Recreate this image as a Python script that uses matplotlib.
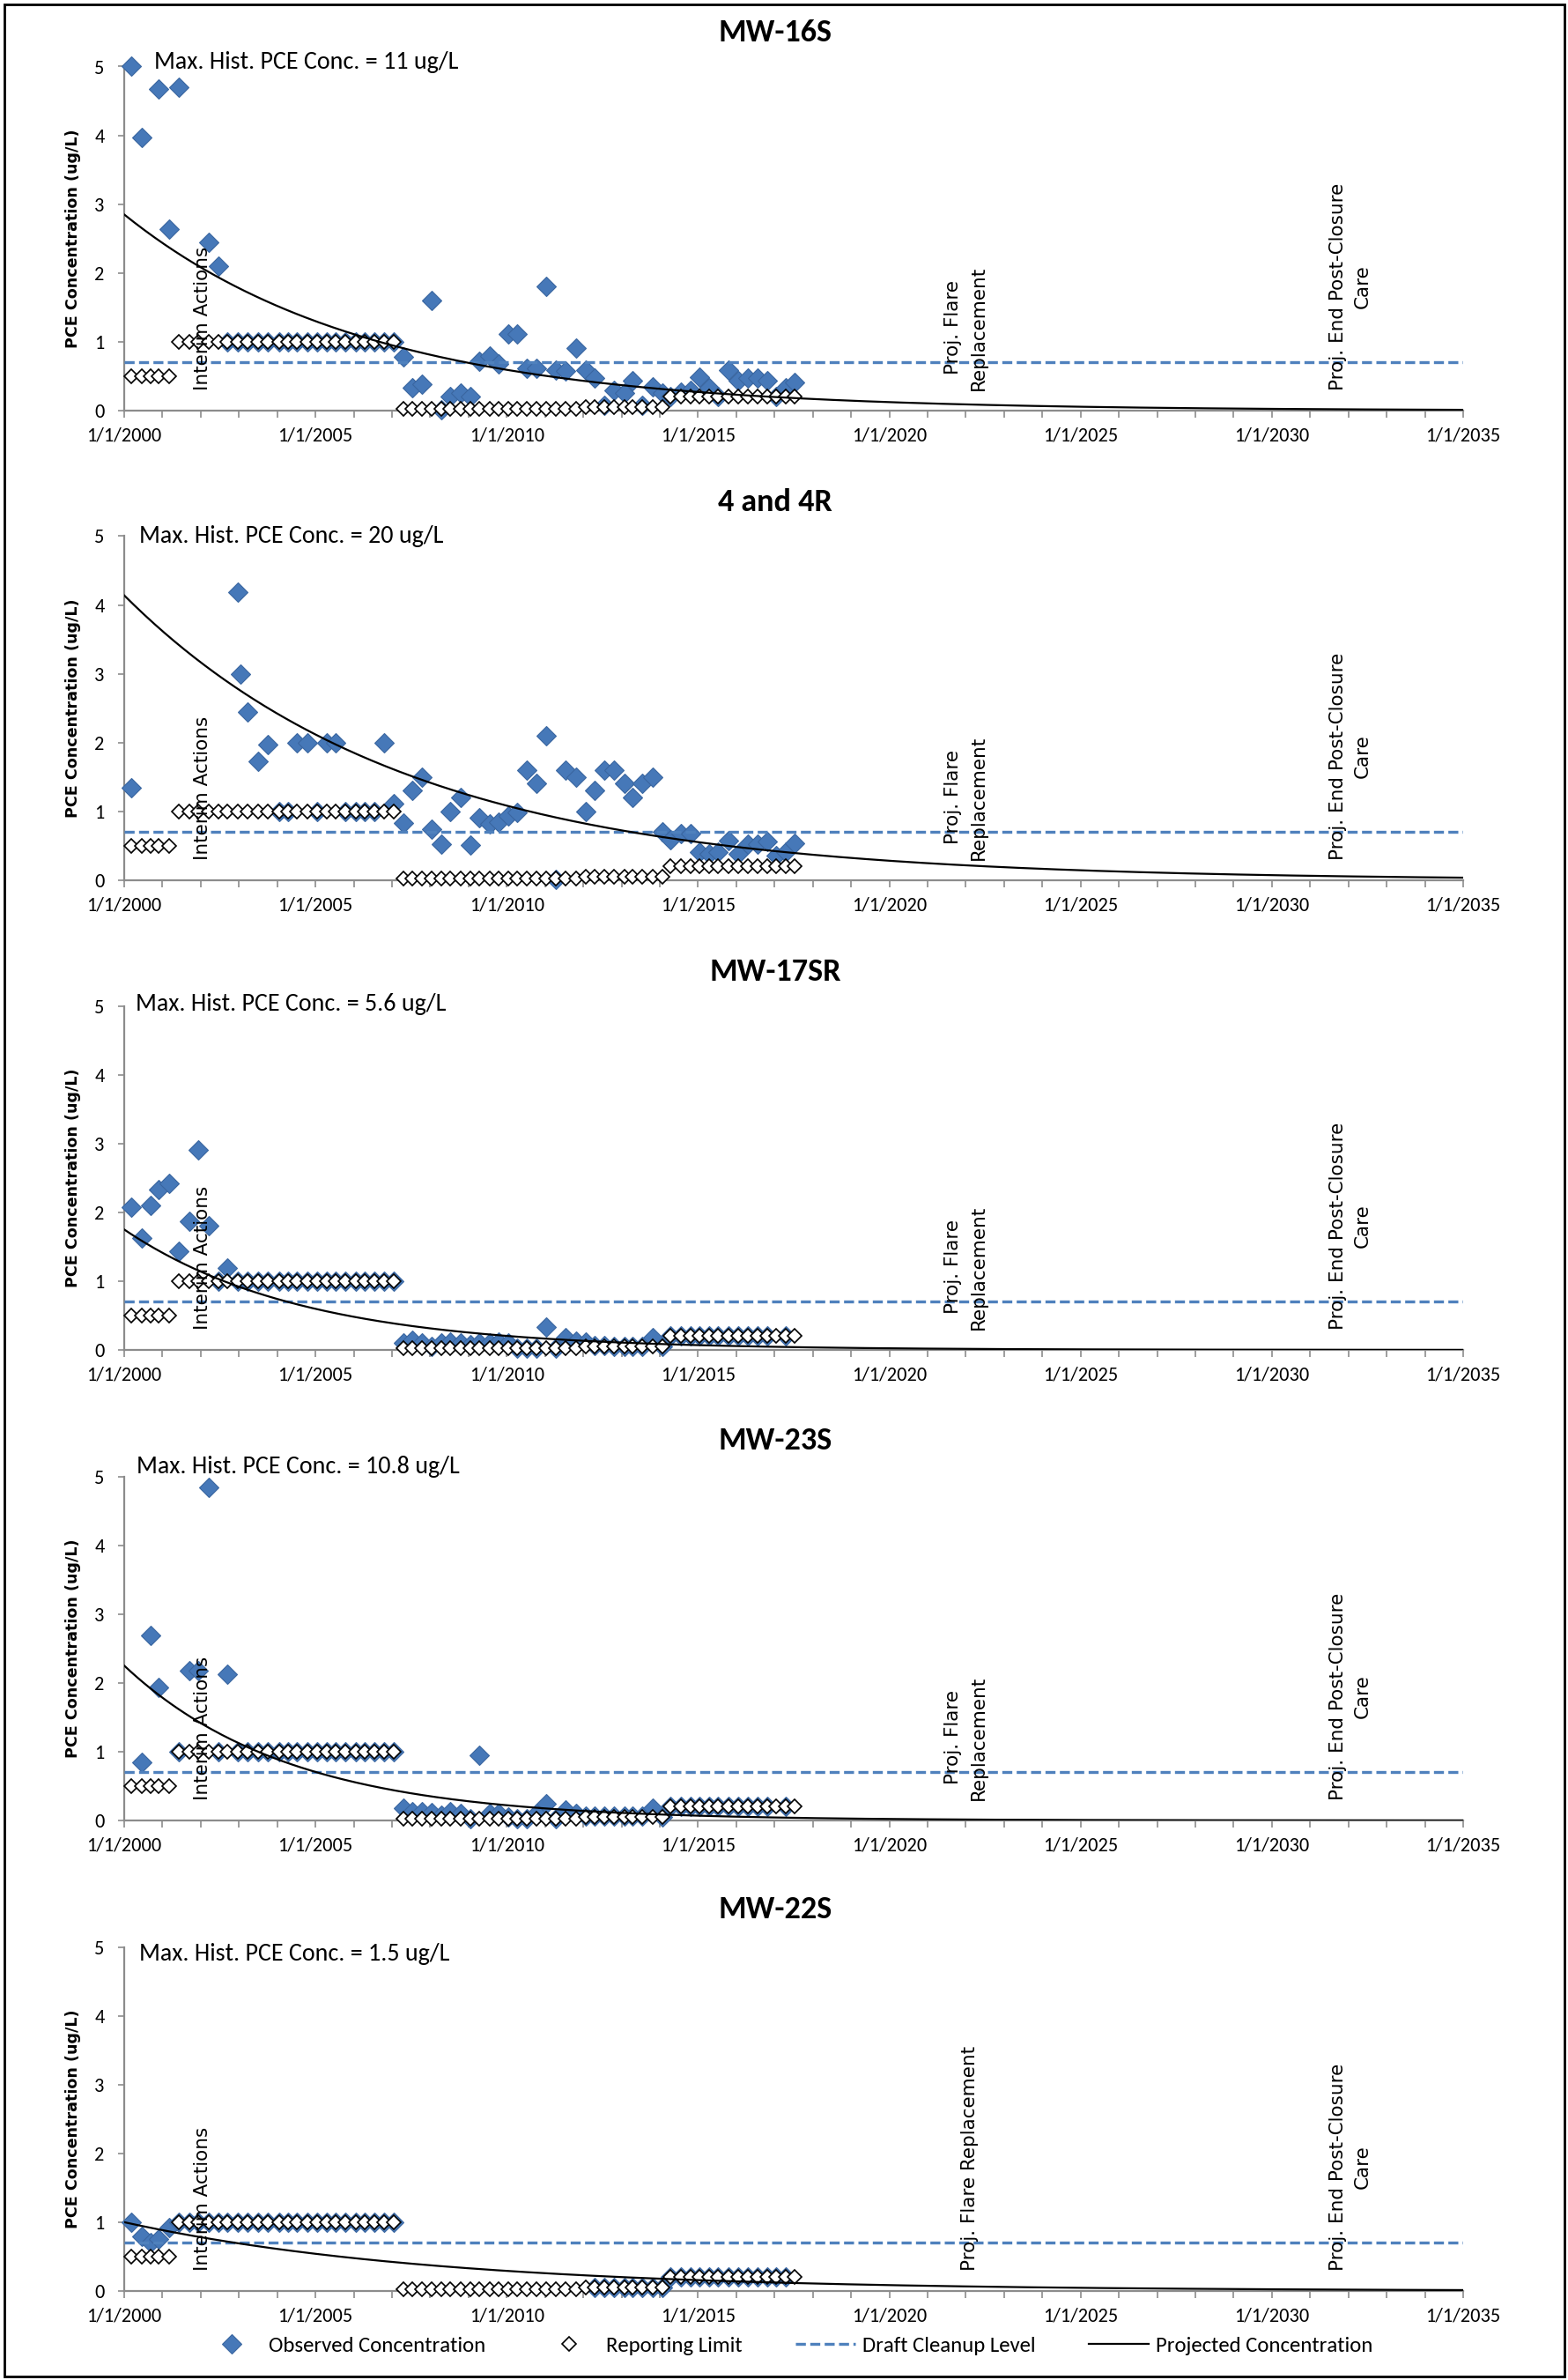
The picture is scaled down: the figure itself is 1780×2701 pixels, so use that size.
import numpy as np
import matplotlib
matplotlib.use('Agg')
import matplotlib.pyplot as plt
from matplotlib import font_manager
from matplotlib.lines import Line2D
from matplotlib.patches import Rectangle
from matplotlib.ticker import MultipleLocator

_names = {f.name for f in font_manager.fontManager.ttflist}


def pick(*cands):
    for n in cands:
        if n in _names:
            return n
    return 'DejaVu Sans'


CAL = pick('Carlito', 'Lato', 'Liberation Sans')
VER = pick('DejaVu Sans')

# ---------------------------------------------------------------- data
titles = ['MW-16S', '4 and 4R', 'MW-17SR', 'MW-23S', 'MW-22S']
max_hist = ['Max. Hist. PCE Conc. = 11 ug/L', 'Max. Hist. PCE Conc. = 20 ug/L',
            'Max. Hist. PCE Conc. = 5.6 ug/L', 'Max. Hist. PCE Conc. = 10.8 ug/L',
            'Max. Hist. PCE Conc. = 1.5 ug/L']

# sampling dates (decimal years)
dates_early = [2000.18, 2000.45, 2000.68, 2000.90, 2001.18]
dates_mid = [2001.43, 2001.70, 2001.94, 2002.21, 2002.47, 2002.70, 2002.97, 2003.23,
             2003.50, 2003.76, 2004.05, 2004.29, 2004.52, 2004.79, 2005.05, 2005.29,
             2005.52, 2005.78, 2006.05, 2006.29, 2006.55, 2006.79, 2007.05]
dates_late = [2007.29, 2007.52, 2007.79, 2008.03, 2008.28, 2008.52, 2008.79, 2009.05,
              2009.28, 2009.55, 2009.79, 2010.05, 2010.28, 2010.52, 2010.78, 2011.02,
              2011.28, 2011.54, 2011.81, 2012.06, 2012.30, 2012.55, 2012.81, 2013.07,
              2013.28, 2013.55, 2013.81, 2014.07, 2014.28, 2014.55, 2014.81, 2015.04,
              2015.28, 2015.53, 2015.80, 2016.04, 2016.31, 2016.55, 2016.80, 2017.04,
              2017.30, 2017.53]
sample_dates = dates_early + dates_mid + dates_late

# reporting limits (ug/L), same schedule for every well
reporting_limit = [0.5, 0.5, 0.5, 0.5, 0.5,
                   1.0, 1.0, 1.0, 1.0, 1.0, 1.0, 1.0, 1.0, 1.0, 1.0, 1.0, 1.0,
                   1.0, 1.0, 1.0, 1.0, 1.0, 1.0, 1.0, 1.0, 1.0, 1.0, 1.0,
                   0.02, 0.02, 0.02, 0.02, 0.02, 0.02, 0.02, 0.02, 0.02, 0.02,
                   0.02, 0.02, 0.02, 0.02, 0.02, 0.02, 0.02, 0.02, 0.02,
                   0.05, 0.05, 0.05, 0.05, 0.05, 0.05, 0.05, 0.05, 0.05,
                   0.2, 0.2, 0.2, 0.2, 0.2, 0.2, 0.2, 0.2, 0.2, 0.2, 0.2, 0.2, 0.2, 0.2]

N = None
obs_mw16s = [5.00, 3.97, N, 4.67, 2.64,
             4.70, N, N, 2.44, 2.10, 1.0, 1.0, 1.0, 1.0, 1.0, 1.0, 1.0,
             1.0, 1.0, 1.0, 1.0, 1.0, 1.0, 1.0, 1.0, 1.0, 1.0, 1.0,
             0.78, 0.33, 0.38, 1.60, 0.01, 0.21, 0.26, 0.21, 0.72, 0.80,
             0.68, 1.11, 1.11, 0.61, 0.61, 1.80, 0.59, 0.57, 0.91, 0.59,
             0.48, 0.08, 0.29, 0.25, 0.43, 0.08, 0.35, 0.25, 0.20, 0.27,
             0.29, 0.49, 0.33, 0.20, 0.59, 0.44, 0.48, 0.47, 0.44, 0.20,
             0.33, 0.41]
obs_4r = [1.35, N, N, N, N,
          N, N, N, N, N, N, 4.19, 2.44, 1.73, 1.97, 1.0, 1.0,
          2.0, 2.0, 1.0, 2.0, 2.0, 1.0, 1.0, 1.0, 1.0, 2.0, 1.11,
          0.83, 1.30, 1.50, 0.74, 0.52, 1.00, 1.20, 0.51, 0.91, 0.82,
          0.84, 0.94, 0.98, 1.60, 1.41, 2.10, 0.01, 1.60, 1.50, 1.00,
          1.30, 1.60, 1.60, 1.41, 1.20, 1.41, 1.50, 0.71, 0.59, 0.68,
          0.68, 0.41, 0.38, 0.41, 0.57, 0.39, 0.53, 0.52, 0.56, 0.36,
          0.41, 0.54]
extra_dates_4r = [2003.03]
extra_obs_4r = [2.99]
obs_mw17sr = [2.08, 1.62, 2.10, 2.33, 2.42,
              1.43, 1.87, 2.91, 1.81, 1.00, 1.19, 1.0, 1.0, 1.0, 1.0, 1.0, 1.0,
              1.0, 1.0, 1.0, 1.0, 1.0, 1.0, 1.0, 1.0, 1.0, 1.0, 1.0,
              0.10, 0.14, 0.10, 0.05, 0.10, 0.12, 0.10, 0.08, 0.10, 0.10,
              0.12, 0.10, 0.02, 0.02, 0.02, 0.33, 0.02, 0.18, 0.13, 0.12,
              0.06, 0.06, 0.05, 0.05, 0.05, 0.05, 0.18, 0.05, 0.2, 0.2,
              0.2, 0.2, 0.2, 0.2, 0.2, 0.2, 0.2, 0.2, 0.2, N,
              0.2, N]
obs_mw23s = [N, 0.85, 2.69, 1.93, N,
             1.00, 2.18, 2.18, 4.84, 1.00, 2.12, 1.0, 1.0, 1.0, 1.0, 1.0, 1.0,
             1.0, 1.0, 1.0, 1.0, 1.0, 1.0, 1.0, 1.0, 1.0, 1.0, 1.0,
             0.18, 0.13, 0.13, 0.12, 0.08, 0.13, 0.10, 0.02, 0.95, 0.10,
             0.10, 0.05, 0.02, 0.02, 0.10, 0.24, 0.02, 0.15, 0.10, 0.07,
             0.06, 0.06, 0.06, 0.06, 0.06, 0.06, 0.18, 0.05, 0.2, 0.2,
             0.2, 0.2, 0.2, 0.2, 0.2, 0.2, 0.2, 0.2, 0.2, N,
             0.2, N]
obs_mw22s = [1.00, 0.79, 0.71, 0.75, 0.92,
             1.0, 1.0, 1.0, 1.0, 1.0, 1.0, 1.0, 1.0, 1.0, 1.0, 1.0, 1.0,
             1.0, 1.0, 1.0, 1.0, 1.0, 1.0, 1.0, 1.0, 1.0, 1.0, 1.0,
             N, N, N, N, N, N, N, N, N, N,
             N, N, N, N, N, N, N, N, N, N,
             0.05, 0.05, 0.05, 0.05, 0.05, 0.05, 0.05, 0.05, 0.2, 0.2,
             0.2, 0.2, 0.2, 0.2, 0.2, 0.2, 0.2, 0.2, 0.2, 0.2,
             0.2, N]
observed = [obs_mw16s, obs_4r, obs_mw17sr, obs_mw23s, obs_mw22s]
extra_dates = [[], extra_dates_4r, [], [], []]
extra_obs = [[], extra_obs_4r, [], [], []]

cleanup_level = 0.7
# projected concentration: first-order decay from 1/1/2000
proj_start = [2.85, 4.14, 1.75, 2.25, 1.00]      # ug/L at 1/1/2000
proj_rate = [0.157, 0.134, 0.215, 0.232, 0.123]  # per year

x_major = [2000, 2005, 2010, 2015, 2020, 2025, 2030, 2035]
x_labels = ['1/1/2000', '1/1/2005', '1/1/2010', '1/1/2015', '1/1/2020',
            '1/1/2025', '1/1/2030', '1/1/2035']
y_ticks = [0, 1, 2, 3, 4, 5]

interim_year = 2002.06
flare_year = 2022.0
closure_year = 2032.05

# ---------------------------------------------------------------- layout
W, H = 1781, 2701
fig = plt.figure(figsize=(W / 100, H / 100), dpi=100)


def fx(px):
    return px / W


def fy(py):
    return 1 - py / H


AX_L, AX_R, AX_H = 141, 1661, 390.5
axis_bottoms = [466, 999, 1532, 2066, 2600]
title_y = [37, 570, 1103, 1635, 2167]
maxtext_x = [175, 158, 154, 155, 158]
maxtext_dy = [5, 0, 2, 11, -8]

BLUE = '#4678B8'
BLUE_EDGE = '#3A66A0'
AXCOL = '#8C8C8C'

obs_style = dict(linestyle='none', marker='D', markersize=11.5, markerfacecolor=BLUE,
                 markeredgecolor=BLUE_EDGE, markeredgewidth=0.8)
rl_style = dict(linestyle='none', marker='D', markersize=8.4, markerfacecolor='white',
                markeredgecolor='black', markeredgewidth=1.2)
cl_style = dict(color='#4F81BD', linewidth=2.4, linestyle=(0, (3.4, 1.5)))
pj_style = dict(color='black', linewidth=1.6)

t = np.linspace(2000, 2035, 400)

for i in range(5):
    y0 = axis_bottoms[i]
    ax = fig.add_axes([fx(AX_L), fy(y0), (AX_R - AX_L) / W, AX_H / H])
    ax.set_xlim(2000, 2035)
    ax.set_ylim(0, 5)
    for s in ('top', 'right'):
        ax.spines[s].set_visible(False)
    for s in ('left', 'bottom'):
        ax.spines[s].set_color(AXCOL)
        ax.spines[s].set_linewidth(1.6)
    ax.set_xticks(x_major)
    ax.set_xticklabels(x_labels)
    ax.xaxis.set_minor_locator(MultipleLocator(1))
    ax.set_yticks(y_ticks)
    ax.tick_params(axis='x', which='both', direction='out', length=6, width=1.2,
                   color=AXCOL, labelsize=16, pad=7)
    ax.tick_params(axis='y', which='both', direction='out', length=5, width=1.2,
                   color=AXCOL, labelsize=16, pad=11)
    for lab in ax.get_xticklabels() + ax.get_yticklabels():
        lab.set_fontfamily(CAL)

    ov = np.array(observed[i], dtype=float)
    ax.plot(sample_dates, ov, zorder=3, clip_on=False, **obs_style)
    if extra_dates[i]:
        ax.plot(extra_dates[i], extra_obs[i], zorder=3, clip_on=False, **obs_style)
    ax.plot(sample_dates, reporting_limit, zorder=4, clip_on=False, **rl_style)
    ax.axhline(cleanup_level, zorder=5, **cl_style)
    ax.plot(t, proj_start[i] * np.exp(-proj_rate[i] * (t - 2000)), zorder=6, **pj_style)

    ann = dict(rotation=90, ha='center', va='bottom', fontsize=15.5, family=VER,
               multialignment='center', linespacing=1.5, zorder=7)
    ax.text(interim_year, 0.3, 'Interim Actions', **ann)
    if i < 4:
        ax.text(flare_year, 0.3, 'Proj. Flare\nReplacement', **ann)
    else:
        ax.text(flare_year + 0.1, 0.3, 'Proj. Flare Replacement', **ann)
    ax.text(closure_year, 0.3, 'Proj. End Post-Closure\nCare', **ann)

    # texts in figure space
    fig.text(fx(880), fy(title_y[i]), titles[i], ha='center', va='center',
             fontsize=26, fontweight='bold', family=CAL)
    fig.text(fx(maxtext_x[i]), fy(y0 - AX_H - maxtext_dy[i]), max_hist[i],
             ha='left', va='center', fontsize=20.2, family=CAL)
    fig.text(fx(83), fy(y0 - AX_H / 2), 'PCE Concentration (ug/L)', rotation=90,
             ha='center', va='center', fontsize=12.6, fontweight='bold', family=VER)

handles = [Line2D([], [], **obs_style), Line2D([], [], **rl_style),
           Line2D([], [], **cl_style), Line2D([], [], **pj_style)]
labels = ['Observed Concentration', 'Reporting Limit', 'Draft Cleanup Level',
          'Projected Concentration']
fig.legend(handles, labels, loc='center', bbox_to_anchor=(fx(894), fy(2662)), ncol=4,
           frameon=False, prop={'family': CAL, 'size': 17.8}, handlelength=2.75,
           handletextpad=0.32, columnspacing=2.45, borderpad=0, borderaxespad=0)

fig.add_artist(Rectangle((fx(5), fy(2697)), (1776 - 5) / W, (2697 - 5) / H,
                         transform=fig.transFigure, fill=False, edgecolor='black',
                         linewidth=2))

fig.savefig('out.png', dpi=100)
